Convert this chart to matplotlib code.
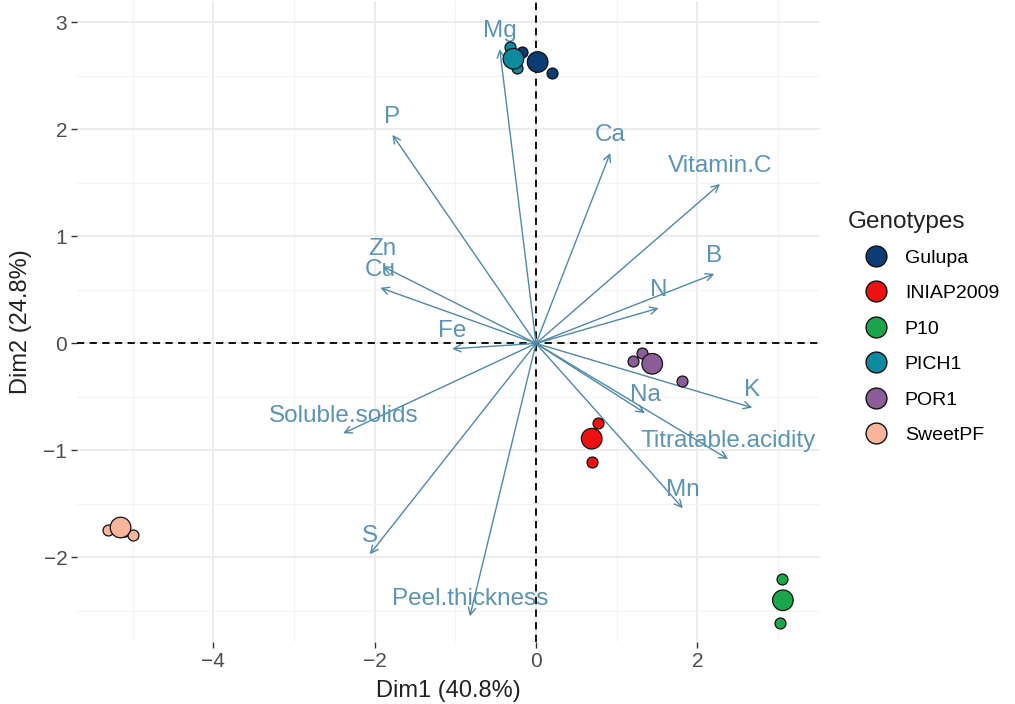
import matplotlib
matplotlib.use('Agg')
import matplotlib.pyplot as plt
from matplotlib.lines import Line2D
from matplotlib.ticker import MultipleLocator

plt.rcParams['font.family'] = ['Liberation Sans', 'DejaVu Sans']

# ---------------- data ----------------
genotypes = ['Gulupa', 'INIAP2009', 'P10', 'PICH1', 'POR1', 'SweetPF']
colors = ['#0B3C73', '#EE1111', '#1AA64A', '#0E8A9E', '#8B5E9A', '#F9B49C']

# individual observations (Dim1, Dim2)
obs_x = {
    'Gulupa':    [-0.17, 0.20, 0.02],
    'INIAP2009': [0.77, 0.69, 0.69],
    'P10':       [3.05, 3.02, 3.07],
    'PICH1':     [-0.32, -0.24, -0.30],
    'POR1':      [1.20, 1.31, 1.81],
    'SweetPF':   [-5.30, -5.10, -5.00, -5.20],
}
obs_y = {
    'Gulupa':    [2.72, 2.53, 2.66],
    'INIAP2009': [-0.74, -1.11, -0.88],
    'P10':       [-2.20, -2.61, -2.40],
    'PICH1':     [2.77, 2.57, 2.66],
    'POR1':      [-0.16, -0.09, -0.35],
    'SweetPF':   [-1.74, -1.75, -1.79, -1.69],
}
# group centroids
mean_x = [0.02, 0.69, 3.06, -0.28, 1.44, -5.15]
mean_y = [2.63, -0.89, -2.40, 2.66, -0.19, -1.72]

# variable loadings (arrow tips)
var_names = ['Mg', 'P', 'Ca', 'Vitamin.C', 'Zn', 'Cu', 'B', 'N', 'Fe', 'Na',
             'K', 'Titratable.acidity', 'Mn', 'Soluble.solids', 'S', 'Peel.thickness']
var_x = [-0.45, -1.78, 0.92, 2.28, -1.90, -1.93, 2.21, 1.52, -1.04, 1.35,
         2.68, 2.38, 1.82, -2.39, -2.06, -0.82]
var_y = [2.75, 1.95, 1.78, 1.49, 0.72, 0.52, 0.65, 0.33, -0.05, -0.65,
         -0.60, -1.08, -1.54, -0.84, -1.97, -2.55]

xlabel = 'Dim1 (40.8%)'
ylabel = 'Dim2 (24.8%)'
legend_title = 'Genotypes'

# ---------------- figure ----------------
fig = plt.figure(figsize=(10.15, 7.04), dpi=100)
ax = fig.add_axes([77 / 1015, 62 / 704, (820 - 77) / 1015, (704 - 62 - 1) / 704])

ax.set_xlim(-5.69, 3.52)
ax.set_ylim(-2.79, 3.20)

ax.xaxis.set_major_locator(MultipleLocator(2))
ax.xaxis.set_minor_locator(MultipleLocator(1))
ax.yaxis.set_major_locator(MultipleLocator(1))
ax.yaxis.set_minor_locator(MultipleLocator(0.5))
ax.grid(which='major', color='#EBEBEB', lw=1.3, zorder=0)
ax.grid(which='minor', color='#F3F3F3', lw=0.8, zorder=0)
ax.set_axisbelow(True)
for s in ax.spines.values():
    s.set_visible(False)
ax.tick_params(which='major', length=4, width=1, color='#333333',
               labelsize=15, labelcolor='#4D4D4D', pad=3)
ax.tick_params(which='minor', length=0)

ax.axhline(0, color='black', ls=(0, (4, 3)), lw=1.3, zorder=1)
ax.axvline(0, color='black', ls=(0, (4, 3)), lw=1.3, zorder=1)

arrow_col = '#4F89A8'
text_col = '#5B94B4'
for name, vx, vy in zip(var_names, var_x, var_y):
    ax.annotate('', xy=(vx, vy), xytext=(0, 0),
                arrowprops=dict(arrowstyle='->', color=arrow_col, lw=1.0,
                                mutation_scale=13, shrinkA=0, shrinkB=0),
                zorder=2)
    ax.annotate(name, xy=(vx, vy), xytext=(0, 8.5), textcoords='offset points',
                ha='center', va='baseline', fontsize=17.5, color=text_col, zorder=3)

for g, c in zip(genotypes, colors):
    ax.scatter(obs_x[g], obs_y[g], s=62, color=c, edgecolor='#111111',
               linewidth=0.9, zorder=4)
ax.scatter(mean_x, mean_y, s=220, c=colors, edgecolor='#111111',
           linewidth=0.9, zorder=5)

ax.set_xlabel(xlabel, fontsize=17, color='#222222', labelpad=7)
ax.set_ylabel(ylabel, fontsize=17, color='#222222', labelpad=8)

handles = [Line2D([0], [0], marker='o', ls='none', markersize=15,
                  markerfacecolor=c, markeredgecolor='#111111', markeredgewidth=1)
           for c in colors]
fig.text(848 / 1015, 1 - 222 / 704, legend_title, fontsize=17.5,
         color='#222222', ha='left', va='center')
leg = fig.legend(handles, genotypes, loc='upper left',
                 bbox_to_anchor=(864 / 1015, 1 - 249 / 704), frameon=False,
                 fontsize=14, handletextpad=0.9,
                 labelspacing=0.92, borderaxespad=0, borderpad=0,
                 handlelength=1.2)

fig.savefig('out.png', dpi=100)
